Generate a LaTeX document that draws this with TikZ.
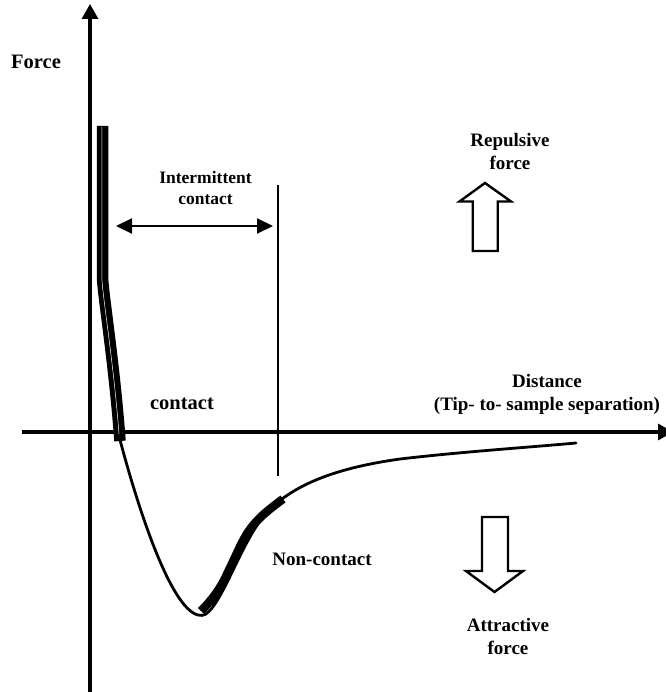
\documentclass[tikz,border=0pt]{standalone}
\usepackage{fontspec}
\setmainfont{Liberation Serif}
\usetikzlibrary{arrows.meta}
\tikzset{
  axis/.style={line width=3.2pt, -{Triangle[length=15pt,width=16pt]}},
  lbl/.style={font=\bfseries\fontsize{19}{23}\selectfont, align=center, inner sep=0pt},
  biglbl/.style={font=\bfseries\fontsize{20.5}{24}\selectfont, align=center, inner sep=0pt},
  smalllbl/.style={font=\bfseries\fontsize{17.5}{21}\selectfont, align=center, inner sep=0pt},
  curve/.style={line width=2.8pt, line cap=round},
  blockarrow/.style={line width=2.4pt, line join=miter, fill=white},
  spanarrow/.style={line width=2pt,
    {Triangle[length=16pt,width=15pt]}-{Triangle[length=16pt,width=15pt]}},
}
\begin{document}
\begin{tikzpicture}[x=1pt,y=-1pt]
\useasboundingbox (0,0) rectangle (665,692);

% axes
\coordinate (yb) at (90,692);
\coordinate (yt) at (90,4);
\coordinate (xl) at (22,432);
\coordinate (xr) at (673,432);
\draw[axis] (yb) -- (yt);
\draw[axis] (xl) -- (xr);

% force-distance curve: thin part
\draw[curve] (119,436) .. controls (137,505) and (170,608) .. (198,615)
  .. controls (204,616.5) and (207,614) .. (212,608)
  .. controls (232,582) and (250,518) .. (282,499)
  .. controls (310,478) and (350,466) .. (400,459)
  .. controls (460,452) and (520,448) .. (576,443);

% contact branch: double band
\draw[line width=11.5pt] (102.5,126) -- (102.5,277)
  .. controls (103,295) and (114,360) .. (120,441);
\draw[white, line width=0.5pt] (101.8,127) -- (101.8,277)
  .. controls (102.3,295) and (113.3,360) .. (119,434);

% non-contact branch: thick wavy band
\draw[line width=8.5pt] (201,611)
  .. controls (212,600) and (221,588) .. (228,572)
  .. controls (236,556) and (243,538) .. (251,528)
  .. controls (257,520) and (264,513) .. (283,499);

% boundary of the intermittent-contact region
\coordinate (vt) at (278,185);
\coordinate (vb) at (278,476);
\draw[line width=2pt] (vt) -- (vb);

\coordinate (il) at (116,226);
\coordinate (ir) at (273,226);
\draw[spanarrow] (il) -- (ir);

% block arrows
\draw[blockarrow] (485,183) -- (511,201.5) -- (497.7,201.5) -- (497.7,251)
  -- (472.7,251) -- (472.7,201.5) -- (459.5,201.5) -- cycle;
\draw[blockarrow] (482,517) -- (508,517) -- (508,571) -- (523,571)
  -- (494.5,592) -- (466,571) -- (482,571) -- cycle;

% labels
\node[biglbl] (force) at (36,62) {Force};
\node[smalllbl] (inter) at (205.5,188) {Intermittent\\contact};
\node[biglbl] (contact) at (182,404) {contact};
\node[lbl] (dist) at (547,394) {Distance\\(Tip- to- sample separation)};
\node[lbl] (rep) at (510,152) {Repulsive\\force};
\node[lbl] (noncontact) at (322,559) {Non-contact};
\node[lbl] (attr) at (508,636) {Attractive\\force};
\end{tikzpicture}
\end{document}
